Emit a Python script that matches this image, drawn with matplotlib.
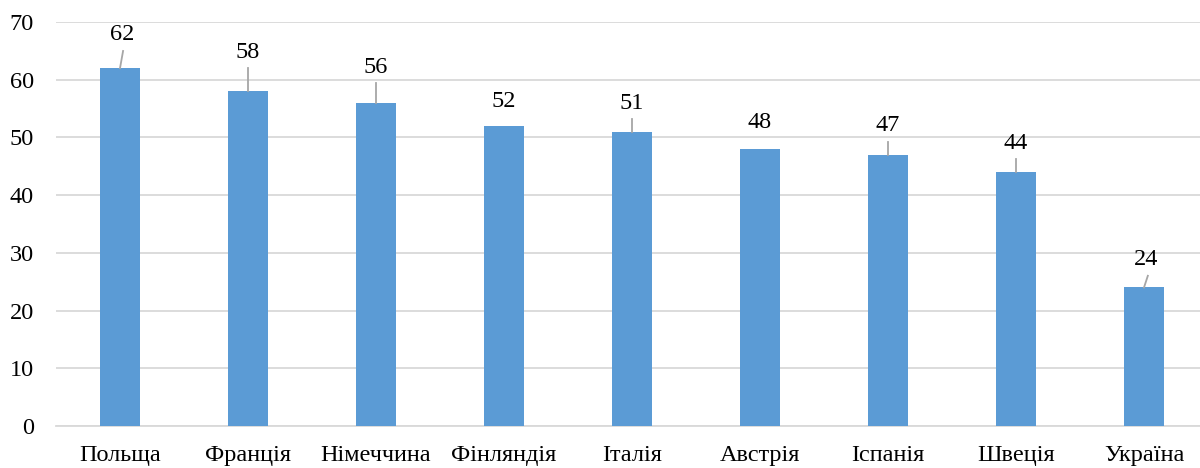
import matplotlib
matplotlib.use("Agg")
import matplotlib.pyplot as plt

countries = ["Польща", "Франція", "Німеччина", "Фінляндія", "Італія",
             "Австрія", "Іспанія", "Швеція", "Україна"]
values = [62, 58, 56, 52, 51, 48, 47, 44, 24]
# where the value labels sit (data units) and their small sideways shifts
label_y = [67.75, 64.8, 62.2, 56.3, 55.96, 52.6, 52.0, 49.0, 28.8]
label_dx = [0.016, 0.0, 0.0, 0.0, 0.0, 0.0, 0.0, 0.0, 0.02]
y_ticks = [0, 10, 20, 30, 40, 50, 60, 70]

plt.rcParams["font.family"] = ["Liberation Serif", "DejaVu Serif"]

fig = plt.figure(figsize=(12, 4.68), dpi=100)
ax = fig.add_axes([56 / 1200, (468 - 426) / 468, 1 - 56 / 1200, (426 - 22) / 468])

x = list(range(len(countries)))
ax.bar(x, values, width=0.31, color="#5B9BD5", zorder=3)

ax.set_ylim(0, 70)
ax.set_xlim(-0.5, 8.5 - 8 / 128)
ax.set_yticks(y_ticks)
ax.set_xticks(x)
ax.set_xticklabels(countries)
ax.tick_params(axis="both", length=0, labelsize=17.5, colors="black")
ax.tick_params(axis="y", pad=16)
ax.tick_params(axis="x", pad=14)
ax.yaxis.grid(True, color="#D9D9D9", linewidth=1.3, zorder=0)
for s in ["top", "right", "left"]:
    ax.spines[s].set_visible(False)
ax.spines["bottom"].set_color("#D9D9D9")
ax.spines["bottom"].set_linewidth(1.3)

px = 404 / 70  # pixels per data unit on the y axis
for xi, v, ly, dx in zip(x, values, label_y, label_dx):
    ax.text(xi + dx, ly, str(v), ha="center", va="center", fontsize=17.5, zorder=5)
    if (ly - v) * px > 27.5:
        ax.plot([xi, xi + dx * 1.5], [v, ly - 16 / px],
                color="#A6A6A6", linewidth=1.3, zorder=4)

fig.savefig("out.png", dpi=100)
